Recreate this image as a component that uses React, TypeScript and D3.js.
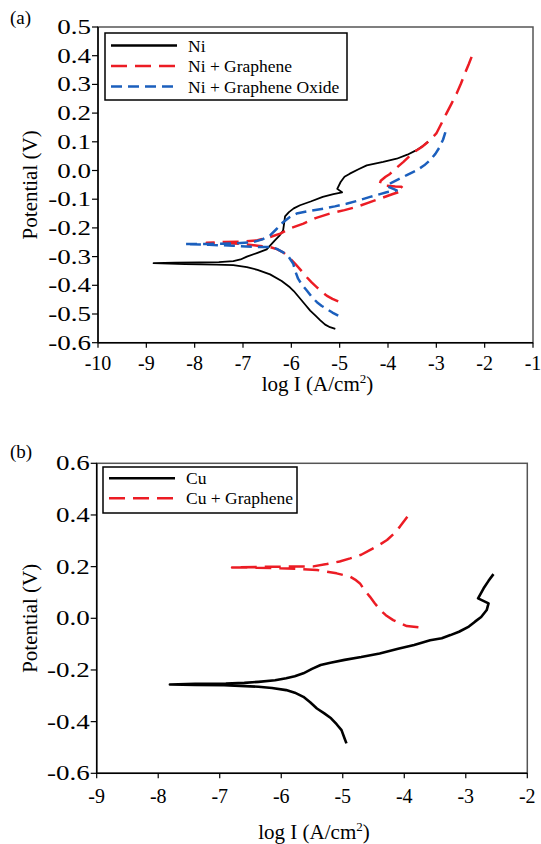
import React, { useEffect } from 'react';
import * as d3 from 'd3';

type Pt = [number, number];

// panel (a): log I vs potential, Ni coatings
const niCurve: Pt[] = [
  [-5.09, -0.552], [-5.2, -0.546], [-5.3, -0.537], [-5.4, -0.522], [-5.5, -0.506], [-5.61, -0.488],
  [-5.72, -0.466], [-5.85, -0.44], [-5.95, -0.42], [-6.03, -0.407], [-6.2, -0.385], [-6.44, -0.362],
  [-6.7, -0.346], [-6.92, -0.337], [-7.2, -0.33], [-7.55, -0.328], [-8.2, -0.326], [-8.85, -0.323],
  [-8.4, -0.321], [-7.9, -0.32], [-7.5, -0.319], [-7.2, -0.316], [-7.05, -0.31], [-6.92, -0.3],
  [-6.7, -0.287], [-6.51, -0.275], [-6.44, -0.262], [-6.35, -0.245], [-6.25, -0.228], [-6.17, -0.209],
  [-6.15, -0.185], [-6.13, -0.16], [-6.05, -0.145], [-5.95, -0.132], [-5.82, -0.121], [-5.6, -0.108],
  [-5.35, -0.092], [-5.13, -0.082], [-4.95, -0.076], [-5.05, -0.064], [-4.98, -0.04], [-4.9, -0.022],
  [-4.79, -0.011], [-4.6, 0.005], [-4.44, 0.018], [-4.1, 0.03], [-3.82, 0.041], [-3.6, 0.055],
  [-3.42, 0.07], [-3.28, 0.085], [-3.17, 0.1],
];

const niGrapheneCurve: Pt[] = [
  [-5.03, -0.456], [-5.15, -0.447], [-5.27, -0.436], [-5.37, -0.422], [-5.47, -0.407], [-5.58, -0.39],
  [-5.68, -0.372], [-5.8, -0.348], [-5.92, -0.325], [-6.05, -0.302], [-6.17, -0.285], [-6.3, -0.274],
  [-6.44, -0.267], [-6.7, -0.262], [-7.0, -0.256], [-7.4, -0.253], [-7.75, -0.252], [-7.4, -0.249],
  [-7.0, -0.248], [-6.7, -0.243], [-6.44, -0.232], [-6.23, -0.22], [-6.0, -0.2], [-5.75, -0.185],
  [-5.5, -0.166], [-5.2, -0.15], [-4.9, -0.138], [-4.65, -0.127], [-4.4, -0.112], [-4.17, -0.098],
  [-3.9, -0.082], [-3.72, -0.072], [-3.68, -0.064], [-3.72, -0.057], [-3.85, -0.056], [-4.05, -0.053],
  [-4.17, -0.046], [-4.15, -0.036], [-4.05, -0.022], [-3.96, -0.012], [-3.82, 0.01], [-3.68, 0.03],
  [-3.48, 0.062], [-3.3, 0.082], [-3.17, 0.1], [-3.0, 0.129], [-2.9, 0.162], [-2.79, 0.199],
  [-2.68, 0.235], [-2.58, 0.268], [-2.49, 0.303], [-2.41, 0.338], [-2.33, 0.37], [-2.27, 0.396],
];

const niOxideCurve: Pt[] = [
  [-5.03, -0.506], [-5.15, -0.495], [-5.27, -0.482], [-5.37, -0.472], [-5.47, -0.459], [-5.58, -0.44],
  [-5.68, -0.418], [-5.78, -0.398], [-5.86, -0.377], [-5.92, -0.35], [-5.96, -0.325], [-6.05, -0.302],
  [-6.17, -0.285], [-6.3, -0.273], [-6.44, -0.267], [-6.79, -0.266], [-7.2, -0.262], [-7.7, -0.259],
  [-8.2, -0.256], [-7.7, -0.256], [-7.2, -0.254], [-6.8, -0.25], [-6.6, -0.24], [-6.44, -0.226],
  [-6.3, -0.203], [-6.17, -0.18], [-6.03, -0.162], [-5.89, -0.15], [-5.6, -0.14], [-5.34, -0.133],
  [-5.1, -0.125], [-4.86, -0.116], [-4.6, -0.104], [-4.37, -0.092], [-4.03, -0.076], [-3.82, -0.069],
  [-3.89, -0.064], [-4.03, -0.054], [-3.92, -0.042], [-3.75, -0.028], [-3.6, -0.015], [-3.41, 0.0],
  [-3.25, 0.018], [-3.13, 0.036], [-3.02, 0.058], [-2.93, 0.082], [-2.86, 0.108], [-2.82, 0.129],
  [-2.79, 0.152],
];

// panel (b): Cu coatings
const cuCurve: Pt[] = [
  [-4.94, -0.484], [-4.97, -0.465], [-5.02, -0.433], [-5.1, -0.41], [-5.19, -0.387], [-5.3, -0.368],
  [-5.42, -0.349], [-5.53, -0.325], [-5.64, -0.304], [-5.78, -0.288], [-5.92, -0.278], [-6.15, -0.27],
  [-6.37, -0.265], [-6.93, -0.259], [-7.4, -0.258], [-7.81, -0.256], [-7.4, -0.254], [-6.9, -0.253],
  [-6.6, -0.25], [-6.37, -0.246], [-6.1, -0.24], [-5.92, -0.232], [-5.78, -0.224], [-5.64, -0.213],
  [-5.5, -0.196], [-5.36, -0.181], [-5.2, -0.172], [-4.97, -0.161], [-4.7, -0.15], [-4.4, -0.136],
  [-4.1, -0.118], [-3.84, -0.103], [-3.58, -0.085], [-3.39, -0.077], [-3.25, -0.065], [-3.11, -0.052],
  [-2.95, -0.032], [-2.85, -0.013], [-2.75, 0.005], [-2.66, 0.032], [-2.63, 0.058], [-2.8, 0.077],
  [-2.71, 0.116], [-2.63, 0.145], [-2.55, 0.171],
];

const cuGrapheneCurve: Pt[] = [
  [-3.77, -0.035], [-3.96, -0.03], [-4.18, -0.007], [-4.3, 0.012], [-4.39, 0.032], [-4.48, 0.058],
  [-4.56, 0.084], [-4.65, 0.11], [-4.72, 0.135], [-4.8, 0.15], [-4.88, 0.161], [-5.1, 0.174],
  [-5.42, 0.187], [-5.9, 0.193], [-6.4, 0.196], [-6.8, 0.197], [-6.4, 0.199], [-5.9, 0.2],
  [-5.48, 0.201], [-5.26, 0.21], [-5.05, 0.22], [-4.88, 0.232], [-4.7, 0.246], [-4.56, 0.264],
  [-4.42, 0.282], [-4.28, 0.303], [-4.17, 0.327], [-4.07, 0.355], [-3.95, 0.393],
];

const ticksAX = [-10, -9, -8, -7, -6, -5, -4, -3, -2, -1];
const ticksAY = [0.5, 0.4, 0.3, 0.2, 0.1, 0.0, -0.1, -0.2, -0.3, -0.4, -0.5, -0.6];
const ticksBX = [-9, -8, -7, -6, -5, -4, -3, -2];
const ticksBY = [0.6, 0.4, 0.2, 0.0, -0.2, -0.4, -0.6];

const labelsA = ['Ni', 'Ni + Graphene', 'Ni + Graphene Oxide'];
const labelsB = ['Cu', 'Cu + Graphene'];

const FONT = '"Liberation Serif", "Times New Roman", serif';
const RED = '#ec1c24';
const BLUE = '#1b5fbd';

const styles = {
  black: { stroke: '#000', width: 2, dash: null },
  red: { stroke: RED, width: 2.5, dash: '16 8' },
  blue: { stroke: BLUE, width: 2.5, dash: '11 6' },
};

function Panel({ box, xDomain, yDomain, xTicks, yTicks, series, legend, tag, tagY, xTitleY, xLabelOff, lineW }) {
  const x = d3.scaleLinear().domain(xDomain).range([box.left, box.right]);
  const y = d3.scaleLinear().domain(yDomain).range([box.bottom, box.top]);
  const line = d3.line<Pt>().x(d => x(d[0])).y(d => y(d[1]));
  const midY = (box.top + box.bottom) / 2;

  return (
    <g fontFamily={FONT} fill="#000">
      <text x={10} y={tagY} fontSize={19}>{tag}</text>
      {series.map((s, i) => (
        <path key={i} d={line(s.data) || ''} fill="none" stroke={s.style.stroke}
          strokeWidth={s.style === styles.black ? lineW : s.style.width}
          strokeDasharray={s.style.dash || undefined} strokeLinejoin="round" />
      ))}
      <rect x={box.left} y={box.top} width={box.right - box.left} height={box.bottom - box.top}
        fill="none" stroke="#555" strokeWidth={1.5} />
      <line x1={box.left} x2={box.left} y1={box.top} y2={box.bottom} stroke="#000" strokeWidth={1.5} />
      <line x1={box.left} x2={box.right} y1={box.bottom} y2={box.bottom} stroke="#000" strokeWidth={1.5} />
      {xTicks.map(t => (
        <g key={'x' + t}>
          <line x1={x(t)} x2={x(t)} y1={box.bottom} y2={box.bottom + 5} stroke="#000" strokeWidth={1.2} />
          <text x={x(t)} y={box.bottom + xLabelOff} fontSize={20} textAnchor="middle">{String(t)}</text>
        </g>
      ))}
      {yTicks.map(t => (
        <g key={'y' + t}>
          <line x1={box.left - 6} x2={box.left} y1={y(t)} y2={y(t)} stroke="#000" strokeWidth={1.2} />
          <text transform={`translate(${box.left - 7},${y(t)}) scale(1.35,1)`} dy="0.35em"
            fontSize={20} textAnchor="end">{t.toFixed(1)}</text>
        </g>
      ))}
      <text x={(box.left + box.right) / 2 + 2} y={xTitleY} fontSize={21} textAnchor="middle">
        log I (A/cm<tspan dy={-8} fontSize={13}>2</tspan><tspan dy={8}>)</tspan>
      </text>
      <text transform={`translate(37,${midY}) rotate(-90)`} fontSize={21} textAnchor="middle">Potential (V)</text>
      <rect x={legend.x} y={legend.y} width={legend.w} height={legend.h} fill="#fff" stroke="#000" strokeWidth={1.5} />
      {legend.items.map((it, i) => (
        <g key={'l' + i}>
          <line x1={legend.x + 6} x2={legend.x + 72} y1={legend.rows[i]} y2={legend.rows[i]}
            stroke={it.style.stroke} strokeWidth={2.5}
            strokeDasharray={it.style.dash || undefined} />
          <text x={legend.x + 83} y={legend.rows[i]} dy="0.35em" fontSize={17.5}>{it.label}</text>
        </g>
      ))}
    </g>
  );
}

export default function App() {
  useEffect(() => {
    document.body.style.margin = '0';
  }, []);

  return (
    <svg width={541} height={844} style={{ display: 'block', background: '#fff' }}>
      <Panel
        box={{ left: 98, right: 533, top: 27, bottom: 342.7 }}
        xDomain={[-10, -1]} yDomain={[-0.6, 0.5]}
        xTicks={ticksAX} yTicks={ticksAY}
        tag="(a)" tagY={24} xTitleY={391} xLabelOff={27} lineW={1.8}
        series={[
          { data: niCurve, style: styles.black },
          { data: niGrapheneCurve, style: styles.red },
          { data: niOxideCurve, style: styles.blue },
        ]}
        legend={{
          x: 105, y: 33, w: 242, h: 67, rows: [45.5, 66, 86.5],
          items: [
            { label: labelsA[0], style: styles.black },
            { label: labelsA[1], style: styles.red },
            { label: labelsA[2], style: styles.blue },
          ],
        }}
      />
      <Panel
        box={{ left: 96.7, right: 527.3, top: 463.3, bottom: 773.3 }}
        xDomain={[-9, -2]} yDomain={[-0.6, 0.6]}
        xTicks={ticksBX} yTicks={ticksBY}
        tag="(b)" tagY={458} xTitleY={839} xLabelOff={30} lineW={2.6}
        series={[
          { data: cuCurve, style: styles.black },
          { data: cuGrapheneCurve, style: styles.red },
        ]}
        legend={{
          x: 103, y: 467, w: 194, h: 46, rows: [478.3, 498.3],
          items: [
            { label: labelsB[0], style: styles.black },
            { label: labelsB[1], style: styles.red },
          ],
        }}
      />
    </svg>
  );
}
